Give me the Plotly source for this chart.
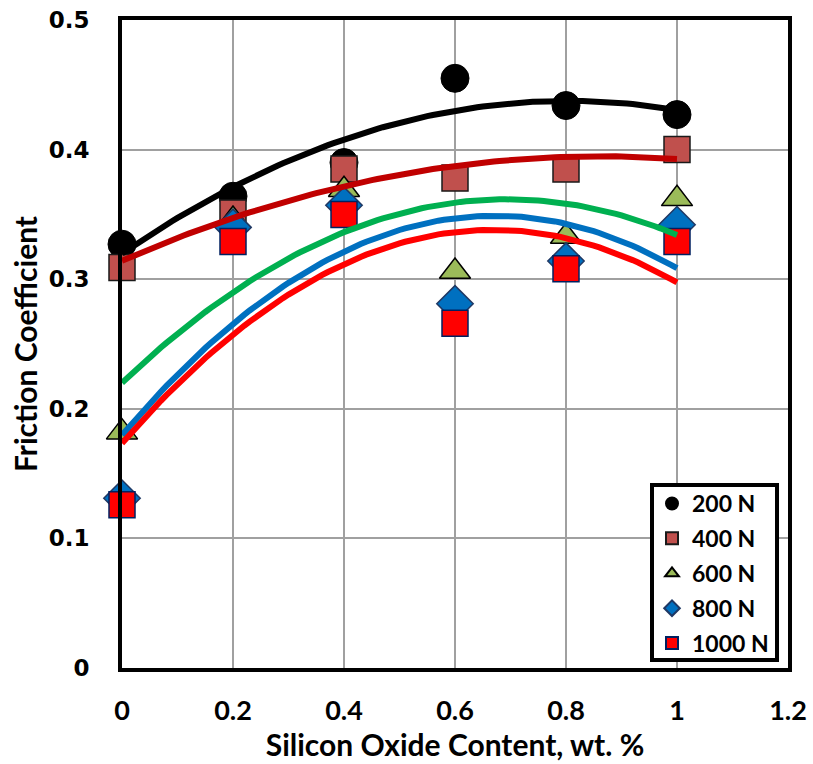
import numpy as np
import plotly.graph_objects as go

# Silicon oxide content (wt. %)
content = [0, 0.2, 0.4, 0.6, 0.8, 1.0]

# Friction coefficient per applied load
mu_200 = [0.327, 0.364, 0.390, 0.455, 0.434, 0.427]
mu_400 = [0.309, 0.351, 0.385, 0.378, 0.385, 0.400]
mu_600 = [0.182, 0.346, 0.369, 0.306, 0.333, 0.362]
mu_800 = [0.131, 0.340, 0.357, 0.281, 0.314, 0.342]
mu_1000 = [0.126, 0.329, 0.350, 0.266, 0.308, 0.329]

load_labels = ["200 N", "400 N", "600 N", "800 N", "1000 N"]

x_ticks = [0, 0.2, 0.4, 0.6, 0.8, 1.0, 1.2]
x_tick_text = ["0", "0.2", "0.4", "0.6", "0.8", "1", "1.2"]
y_ticks = [0, 0.1, 0.2, 0.3, 0.4, 0.5]
y_tick_text = ["0", "0.1", "0.2", "0.3", "0.4", "0.5"]

series = [mu_200, mu_400, mu_600, mu_800, mu_1000]
marker_styles = [
    dict(symbol="circle", size=28, color="#000000", line=dict(color="#000000", width=1)),
    dict(symbol="square", size=26, color="#C0504D", line=dict(color="#1a1a1a", width=1.5)),
    dict(symbol="triangle-up", size=27, color="#9BBB59", line=dict(color="#000000", width=1.5)),
    dict(symbol="diamond", size=28, color="#0070C0", line=dict(color="#1F3864", width=1.5)),
    dict(symbol="square", size=26, color="#FF0000", line=dict(color="#002060", width=1.5)),
]
trend_colors = ["#000000", "#C00000", "#00B050", "#0070C0", "#FF0000"]

fig = go.Figure()

# measured points
for i, (vals, name, ms) in enumerate(zip(series, load_labels, marker_styles)):
    fig.add_trace(go.Scatter(
        x=content, y=vals, mode="markers", name=name,
        marker=ms, legendgroup=f"g{i}", cliponaxis=False,
    ))

# second-order polynomial trend lines
x_fit = np.linspace(0, 1, 101)
for vals, col in zip(series, trend_colors):
    coef = np.polyfit(content, vals, 2)
    fig.add_trace(go.Scatter(
        x=x_fit, y=np.polyval(coef, x_fit), mode="lines",
        line=dict(color=col, width=6), showlegend=False, hoverinfo="skip",
    ))

# framed white box behind the legend entries
fig.add_shape(
    type="rect", xref="paper", yref="paper",
    x0=0.7958, x1=0.9835, y0=0.0123, y1=0.2824,
    fillcolor="white", line=dict(color="#000000", width=4), layer="above",
)

fig.update_layout(
    width=813, height=764,
    margin=dict(l=122, r=25, t=20, b=96),
    paper_bgcolor="white", plot_bgcolor="white",
    showlegend=True,
    legend=dict(
        x=0.7958, y=0.287, xanchor="left", yanchor="top",
        bgcolor="rgba(0,0,0,0)", bordercolor="rgba(0,0,0,0)", borderwidth=0,
        font=dict(family="Lato", size=23, color="#000000", weight="bold"),
        tracegroupgap=2, itemsizing="constant",
    ),
)

fig.update_xaxes(
    range=[0, 1.2], tickvals=x_ticks, ticktext=x_tick_text,
    showgrid=True, gridcolor="#A0A0A0", gridwidth=2,
    showline=True, linecolor="#000000", linewidth=4, mirror=True,
    ticks="", ticklabelstandoff=16, zeroline=False, automargin=False,
    tickfont=dict(family="Lato", size=27, color="#000000", weight="bold"),
    title=dict(text="Silicon Oxide Content, wt. %", standoff=8,
               font=dict(family="Lato", size=30, color="#000000", weight="bold")),
)
fig.update_yaxes(
    range=[0, 0.5], tickvals=y_ticks, ticktext=y_tick_text,
    showgrid=True, gridcolor="#A0A0A0", gridwidth=2,
    showline=True, linecolor="#000000", linewidth=4, mirror=True,
    ticks="", ticklabelstandoff=24, zeroline=False, automargin=False,
    tickfont=dict(family="DejaVu Sans", size=23, color="#000000", weight="bold"),
    title=dict(text="Friction Coefficient", standoff=3,
               font=dict(family="Lato", size=30, color="#000000", weight="bold")),
)

fig.write_html("out.html")
